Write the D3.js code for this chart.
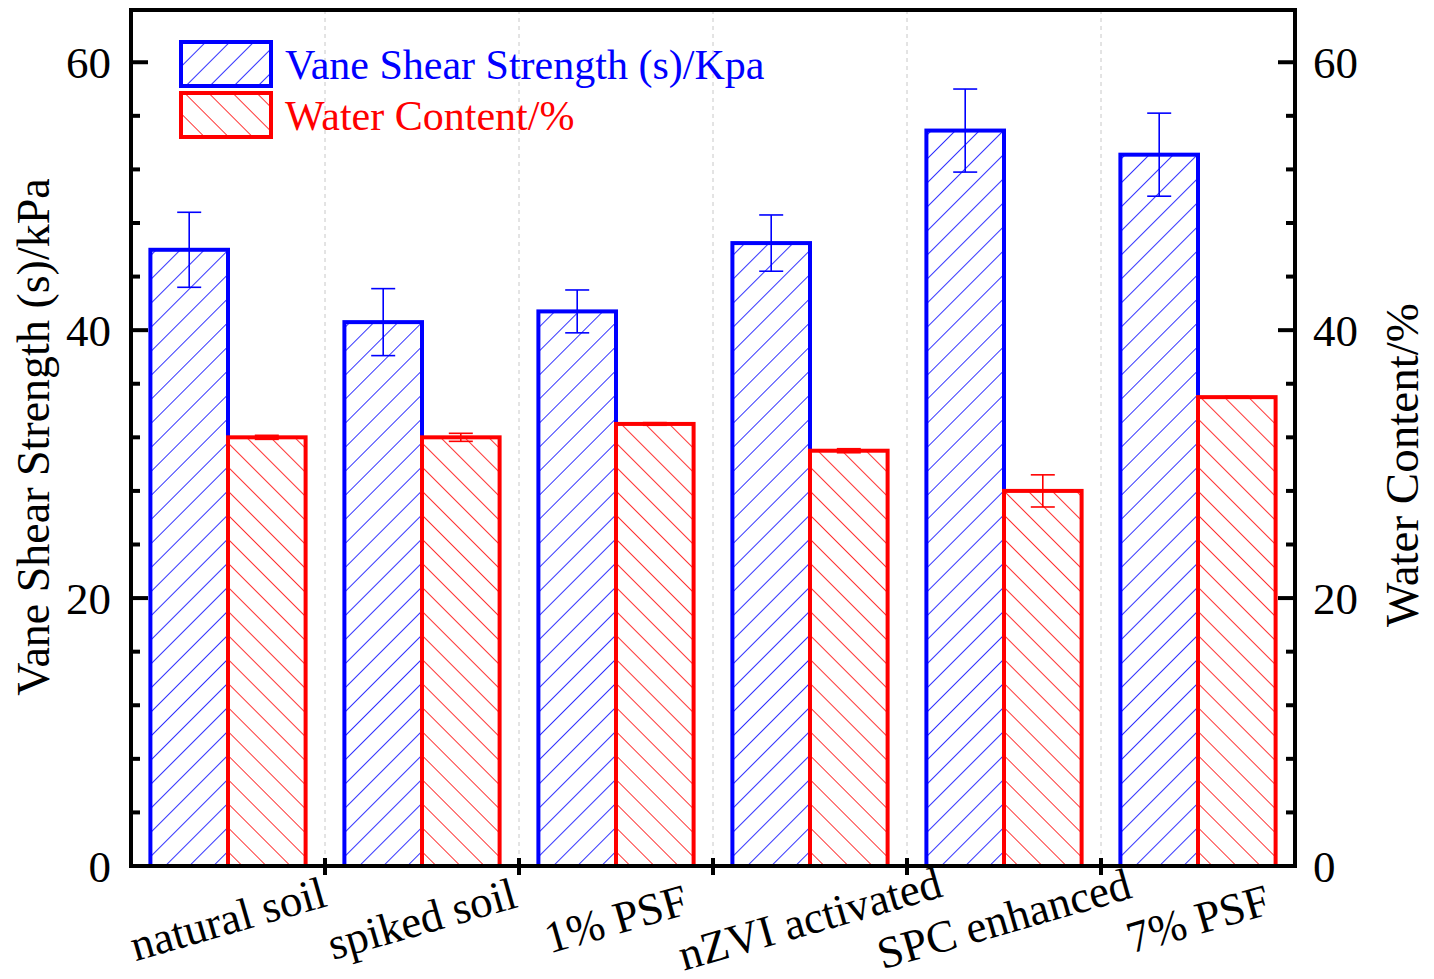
<!DOCTYPE html>
<html>
<head>
<meta charset="utf-8">
<script src="https://cdn.jsdelivr.net/npm/d3@7"></script>
<style>
  body { margin: 0; background: #fff; }
  text { font-family: "Liberation Serif", "Times New Roman", serif; }
</style>
</head>
<body>
<div id="chart"></div>
<script>
// data
const categories = ["natural soil", "spiked soil", "1% PSF", "nZVI activated", "SPC enhanced", "7% PSF"];
const strength = [46.0, 40.6, 41.4, 46.5, 54.9, 53.1];
const strengthErr = [2.8, 2.5, 1.6, 2.1, 3.1, 3.1];
const water = [32.0, 32.0, 33.0, 31.0, 28.0, 35.0];
const waterErr = [0.15, 0.3, 0.1, 0.15, 1.2, 0.05];
const yTicks = [0, 20, 40, 60];

const W = 1434, H = 979;
const margin = { top: 10, right: 139, bottom: 113, left: 131 };
const width = W - margin.left - margin.right;
const height = H - margin.top - margin.bottom;

const svg = d3.select("#chart").append("svg")
    .attr("width", W)
    .attr("height", H);

// hatch patterns
let defs = svg.append("defs");
function hatch(id, color, angle) {
    let p = defs.append("pattern")
        .attr("id", id)
        .attr("patternUnits", "userSpaceOnUse")
        .attr("width", 17)
        .attr("height", 17)
        .attr("patternTransform", `rotate(${angle})`);
    p.append("rect").attr("width", 17).attr("height", 17).attr("fill", "#fff");
    p.append("line")
        .attr("x1", 0).attr("y1", 0).attr("x2", 0).attr("y2", 17)
        .attr("stroke", color).attr("stroke-width", 1.6);
}
hatch("hatchBlue", "#0000ff", 45);
hatch("hatchRed", "#ff0000", -45);

const g = svg.append("g")
    .attr("transform", `translate(${margin.left},${margin.top})`);

// scales
const x = d3.scaleBand().domain(categories).range([0, width]).padding(0);
const xs = d3.scaleBand().domain(["s", "w"]).range([0, x.bandwidth()]).paddingOuter(0.25).paddingInner(0);
const y = d3.scaleLinear().domain([0, 63.9]).range([height, 0]);
const y2 = d3.scaleLinear().domain([0, 63.9]).range([height, 0]);

// dashed gridlines between categories
g.selectAll(".grid")
    .data(categories.slice(1))
    .enter().append("line")
    .attr("class", "grid")
    .attr("x1", d => x(d)).attr("x2", d => x(d))
    .attr("y1", 0).attr("y2", height)
    .attr("stroke", "#c8c8c8")
    .attr("stroke-width", 1)
    .attr("stroke-dasharray", "4,4");

// bars
const groups = g.selectAll(".cat")
    .data(categories)
    .enter().append("g")
    .attr("class", "cat")
    .attr("transform", d => `translate(${x(d)},0)`);

groups.append("rect")
    .attr("x", xs("s"))
    .attr("width", xs.bandwidth())
    .attr("y", (d, i) => y(strength[i]))
    .attr("height", (d, i) => height - y(strength[i]))
    .attr("fill", "url(#hatchBlue)")
    .attr("stroke", "#0000ff")
    .attr("stroke-width", 4);

groups.append("rect")
    .attr("x", xs("w"))
    .attr("width", xs.bandwidth())
    .attr("y", (d, i) => y2(water[i]))
    .attr("height", (d, i) => height - y2(water[i]))
    .attr("fill", "url(#hatchRed)")
    .attr("stroke", "#ff0000")
    .attr("stroke-width", 4);

// error bars
function errorBars(key, vals, errs, scale, color) {
    let cx = xs(key) + xs.bandwidth() / 2;
    let eg = groups.append("g").attr("stroke", color).attr("stroke-width", 1.6);
    eg.append("line")
        .attr("x1", cx).attr("x2", cx)
        .attr("y1", (d, i) => scale(vals[i] + errs[i]))
        .attr("y2", (d, i) => scale(vals[i] - errs[i]));
    [1, -1].forEach(s => {
        eg.append("line")
            .attr("x1", cx - 12).attr("x2", cx + 12)
            .attr("y1", (d, i) => scale(vals[i] + s * errs[i]))
            .attr("y2", (d, i) => scale(vals[i] + s * errs[i]));
    });
}
errorBars("s", strength, strengthErr, y, "#0000ff");
errorBars("w", water, waterErr, y2, "#ff0000");

// frame
g.append("rect")
    .attr("width", width).attr("height", height)
    .attr("fill", "none")
    .attr("stroke", "#000")
    .attr("stroke-width", 4);

// y axes: major + minor ticks pointing inward
const minor = d3.range(0, 64, 4).filter(v => v % 20 !== 0);
function yAxis(scale, side) {
    let dir = side === "left" ? 1 : -1;
    let x0 = side === "left" ? 0 : width;
    let ax = g.append("g").attr("class", "axis-" + side);
    ax.selectAll(".major").data(yTicks).enter().append("line")
        .attr("x1", x0).attr("x2", x0 + dir * 17)
        .attr("y1", d => scale(d)).attr("y2", d => scale(d))
        .attr("stroke", "#000").attr("stroke-width", 4);
    ax.selectAll(".minor").data(minor).enter().append("line")
        .attr("x1", x0).attr("x2", x0 + dir * 9)
        .attr("y1", d => scale(d)).attr("y2", d => scale(d))
        .attr("stroke", "#000").attr("stroke-width", 4);
    ax.selectAll("text").data(yTicks).enter().append("text")
        .attr("x", side === "left" ? -20 : width + 18)
        .attr("y", d => scale(d))
        .attr("dy", "0.35em")
        .attr("text-anchor", side === "left" ? "end" : "start")
        .attr("font-size", 45)
        .text(d => d);
}
yAxis(y, "left");
yAxis(y2, "right");

// x ticks at category boundaries
g.selectAll(".xtick")
    .data(categories.slice(1))
    .enter().append("line")
    .attr("x1", d => x(d)).attr("x2", d => x(d))
    .attr("y1", height - 8).attr("y2", height + 9)
    .attr("stroke", "#000").attr("stroke-width", 4);

g.selectAll(".xlabel")
    .data(categories)
    .enter().append("text")
    .attr("class", "xlabel")
    .attr("transform", d => `translate(${x(d) + x.bandwidth() / 2},${height + 53}) rotate(-16)`)
    .attr("text-anchor", "middle")
    .attr("dominant-baseline", "central")
    .attr("font-size", 45)
    .text(d => d);

// axis titles
svg.append("text")
    .attr("transform", `translate(49,437) rotate(-90)`)
    .attr("text-anchor", "middle")
    .attr("font-size", 46)
    .text("Vane Shear Strength (s)/kPa");

svg.append("text")
    .attr("transform", `translate(1418,465) rotate(-90)`)
    .attr("text-anchor", "middle")
    .attr("font-size", 47)
    .text("Water Content/%");

// legend
const legendItems = [
    { label: "Vane Shear Strength (s)/Kpa", color: "#0000ff", fill: "url(#hatchBlue)" },
    { label: "Water Content/%", color: "#ff0000", fill: "url(#hatchRed)" }
];
const legend = svg.append("g").attr("transform", "translate(181,42)");
legendItems.forEach((d, i) => {
    legend.append("rect")
        .attr("x", 0).attr("y", i * 51)
        .attr("width", 90).attr("height", 44)
        .attr("fill", d.fill)
        .attr("stroke", d.color)
        .attr("stroke-width", 4);
    legend.append("text")
        .attr("x", 104).attr("y", i * 51 + 22)
        .attr("dy", "0.35em")
        .attr("font-size", 42)
        .attr("fill", d.color)
        .text(d.label);
});
</script>
</body>
</html>
